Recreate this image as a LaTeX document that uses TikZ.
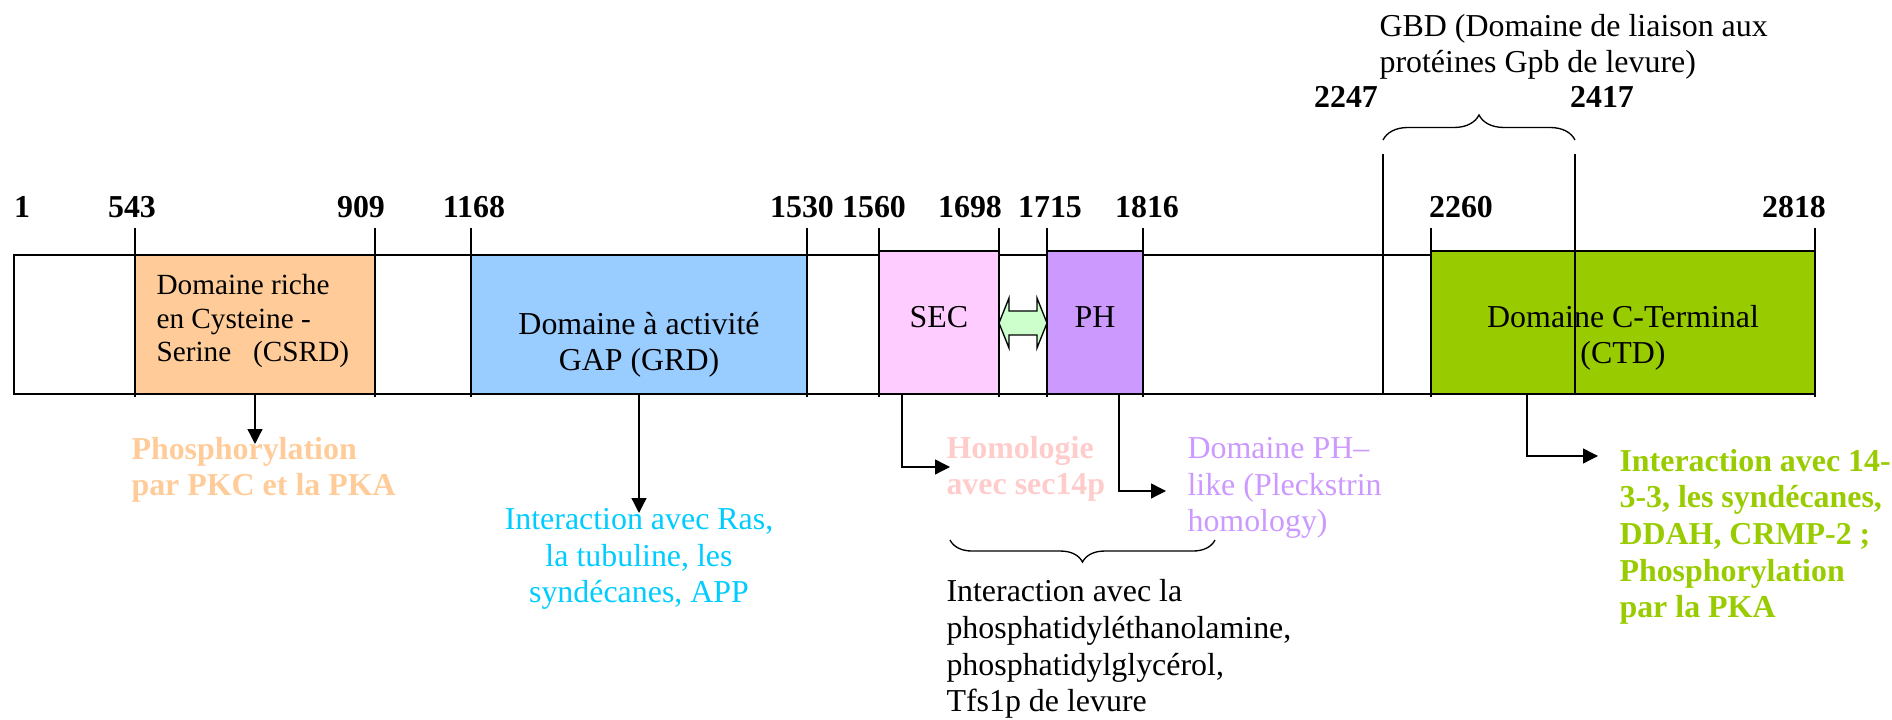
\documentclass[tikz,border=0pt]{standalone}
\usepackage{fontspec}
\setmainfont{Liberation Serif}
\usepackage{tikz}
\usetikzlibrary{arrows.meta,decorations.pathreplacing}

\definecolor{csrdcol}{HTML}{FFCC99}
\definecolor{grdcol}{HTML}{99CCFF}
\definecolor{seccol}{HTML}{FFCCFF}
\definecolor{phcol}{HTML}{CC99FF}
\definecolor{ctdcol}{HTML}{99CC00}
\definecolor{linkcol}{HTML}{CCFFCC}
\definecolor{rascol}{HTML}{00CCFF}
\definecolor{homcol}{HTML}{FFCCCC}

\tikzset{
  dom/.style={draw=black,line width=0.8pt},
  tk/.style={line width=0.5pt},
  num/.style={font=\fontsize{12}{13.8}\selectfont\bfseries,inner sep=0pt,anchor=base},
  lab/.style={font=\fontsize{12}{13.8}\selectfont,inner sep=0pt,align=left,anchor=base west},
  arr/.style={line width=0.5pt,-{Triangle[length=5.6pt,width=5.6pt]}},
  brc/.style={line width=0.5pt,decorate},
}

\begin{document}
\begin{tikzpicture}
    % one unit = one pixel of the 1892 x 720 picture, y going down
    % (texts on several lines are placed by the baseline of their last line)
    [x={(0.376pt,0)},y={(0,-0.376pt)}]
    \useasboundingbox (0,0) rectangle (1892,720);

    % the chain and its domains
    \draw[dom] (14,255) rectangle (1815,394);
    \foreach \xa/\xb/\ya/\col in {135/375/255/csrdcol, 471/807/255/grdcol,
        879/999/251/seccol, 1047/1143/251/phcol, 1431/1815/251/ctdcol}
      \draw[dom,fill=\col] (\xa,\ya) rectangle (\xb,394);

    % position marks
    \foreach \x in {135,375,471,807,879,999,1047,1143,1431,1815}
      \draw[tk] (\x,228) -- (\x,397);
    \foreach \x/\t in {22/1, 132/543, 361/909, 474/1168, 802/1530, 874/1560,
        970/1698, 1050/1715, 1147/1816, 1461/2260, 1794/2818}
      \node[num] (n\t) at (\x,218) {\t};

    % GBD
    \draw[tk] (1383,154) -- (1383,394);
    \draw[tk] (1575,154) -- (1575,394);
    \node[num] (n2247) at (1346,108) {2247};
    \node[num] (n2417) at (1602,108) {2417};
    \draw[brc,decoration={brace,amplitude=9.4pt}] (1383,140) -- (1575,140);
    \node[lab] (gbd) at (1379,73) {GBD (Domaine de liaison aux\\protéines Gpb de levure)};

    % text in the boxes
    \node[lab,font=\fontsize{11}{12.65}\selectfont] (tcsrd) at (156,362)
      {Domaine riche\\en Cysteine -\\Serine\ \ \ (CSRD)};
    \node[lab,align=center,anchor=base] (tgrd) at (639,371) {Domaine à activité\\GAP (GRD)};
    \node[lab,anchor=base] (tsec) at (939,328) {SEC};
    \node[lab,anchor=base] (tph) at (1095,328) {PH};
    \node[lab,align=center,anchor=base] (tctd) at (1623,364) {Domaine C-Terminal\\(CTD)};

    % link SEC - PH
    \draw[fill=linkcol,line width=0.5pt] (999,323) -- (1009,298) -- (1009,311) -- (1037,311)
      -- (1037,298) -- (1047,323) -- (1037,348) -- (1037,335) -- (1009,335) -- (1009,348) -- cycle;

    % what each part does
    \node[lab,font=\fontsize{12}{13.8}\selectfont\bfseries,text=csrdcol] (phos) at (131,496)
      {Phosphorylation\\par PKC et la PKA};
    \node[lab,align=center,anchor=base,text=rascol] (ras) at (639,603)
      {Interaction avec Ras,\\la tubuline, les\\syndécanes, APP};
    \node[lab,font=\fontsize{12}{13.8}\selectfont\bfseries,text=homcol] (hom) at (946,495)
      {Homologie\\avec sec14p};
    \node[lab,text=phcol] (phl) at (1187,532) {Domaine PH–\\like (Pleckstrin\\homology)};
    \node[lab] (lip) at (946,712)
      {Interaction avec la\\phosphatidyléthanolamine,\\phosphatidylglycérol,\\Tfs1p de levure};
    \node[lab,font=\fontsize{12}{13.8}\selectfont\bfseries,text=ctdcol] (cint) at (1619,618)
      {Interaction avec 14-\\3-3, les syndécanes,\\DDAH, CRMP-2 ;\\Phosphorylation\\par la PKA};
    \draw[brc,decoration={brace,amplitude=8.3pt}] (1215,540) -- (950,540);

    % arrows
    \coordinate (csrdb) at (255,394);
    \coordinate (csrde) at (255,444);
    \coordinate (grdb)  at (639,394);
    \coordinate (grde)  at (639,513);
    \coordinate (secb)  at (902,394);
    \coordinate (sece)  at (950,467);
    \coordinate (phb)   at (1119,394);
    \coordinate (phe)   at (1166,491);
    \coordinate (ctdb)  at (1527,394);
    \coordinate (ctde)  at (1598,456);
    \draw[arr] (csrdb) -- (csrde);
    \draw[arr] (grdb) -- (grde);
    \draw[arr] (secb) |- (sece);
    \draw[arr] (phb) |- (phe);
    \draw[arr] (ctdb) |- (ctde);
\end{tikzpicture}
\end{document}
